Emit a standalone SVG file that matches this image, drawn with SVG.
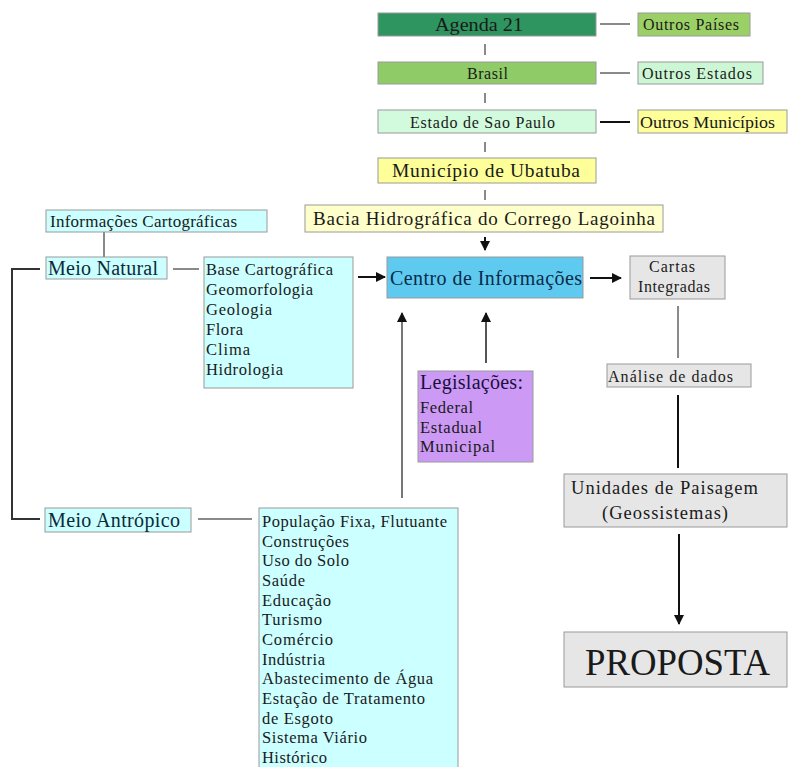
<svg xmlns="http://www.w3.org/2000/svg" width="788" height="767" viewBox="0 0 788 767">
<defs>
<style>
text{font-family:"Liberation Serif","Times New Roman",serif;fill:#1a1a1a}
.b{stroke:#9a9a9a;stroke-width:1}
.g{stroke:#8a8a8a;stroke-width:2;fill:none}
.k{stroke:#111;stroke-width:2;fill:none}
.s14{font-size:16px}
.s15{font-size:16.5px}
</style>
<marker id="ah" viewBox="0 0 10 10" refX="9" refY="5" markerWidth="5" markerHeight="5" orient="auto"><path d="M0,0L10,5L0,10z" fill="#111"/></marker>
</defs>
<rect width="788" height="767" fill="#fff"/>
<g id="connectors">
<path class="g" d="M600,24H630M600,73H630M485,44V55M485,93V103M485,142V152M485,190V200M104,232V257M173,269H199M198,519H252M678,306V358"/>
<path class="k" d="M600,122H630M678,395V468"/>
<path class="k" d="M40,269H12V519H40" style="stroke:#333"/>
<path class="k" d="M485,237V250" marker-end="url(#ah)"/>
<path class="k" d="M358,277H385" marker-end="url(#ah)"/>
<path class="k" d="M590,278H621" marker-end="url(#ah)"/>
<path class="g" d="M486,363V313" marker-end="url(#ah)" style="stroke:#555"/>
<path class="g" d="M402,498V313" marker-end="url(#ah)" style="stroke:#777"/>
<path class="k" d="M679,534V624" marker-end="url(#ah)"/>
</g>
<g id="agenda21"><rect class="b" x="378" y="13" width="218" height="23" fill="#2e9460"/><text x="435" y="31" font-size="18" textLength="88" lengthAdjust="spacingAndGlyphs">Agenda 21</text></g>
<g id="outros-paises"><rect class="b" x="638" y="13" width="112" height="23" fill="#9bd067"/><text x="643" y="30" class="s14" textLength="96">Outros Países</text></g>
<g id="brasil"><rect class="b" x="378" y="62" width="218" height="22" fill="#8fcc68"/><text x="467" y="79" class="s14" textLength="41">Brasil</text></g>
<g id="outros-estados"><rect class="b" x="638" y="62" width="125" height="22" fill="#ccf7d4"/><text x="642" y="79" class="s14" textLength="110">Outros Estados</text></g>
<g id="estado-sp"><rect class="b" x="378" y="110" width="218" height="23" fill="#d2fadc"/><text x="410" y="128" class="s14" textLength="145">Estado de Sao Paulo</text></g>
<g id="outros-municipios"><rect class="b" x="638" y="110" width="149" height="23" fill="#ffff99"/><text x="640" y="128" class="s14" textLength="135" lengthAdjust="spacingAndGlyphs">Outros Municípios</text></g>
<g id="ubatuba"><rect class="b" x="378" y="158" width="218" height="25" fill="#ffff99"/><text x="392" y="177" font-size="19.5" textLength="188">Município de Ubatuba</text></g>
<g id="bacia"><rect class="b" x="305" y="205" width="358" height="27" fill="#ffffcc"/><text x="313" y="225" font-size="19" textLength="342">Bacia Hidrográfica do Corrego Lagoinha</text></g>
<g id="centro"><rect class="b" x="387" y="257" width="196" height="41" fill="#5fcaf0"/><text x="390" y="285" font-size="20" textLength="192" style="fill:#0a2a4a">Centro de Informações</text></g>
<g id="cartas"><rect class="b" x="630" y="256" width="95" height="43" fill="#e6e6e6"/><text x="649" y="272" class="s14" textLength="46">Cartas</text><text x="638" y="292" class="s14" textLength="72">Integradas</text></g>
<g id="analise"><rect class="b" x="607" y="364" width="144" height="23" fill="#e6e6e6"/><text x="608" y="382" class="s14" textLength="125">Análise de dados</text></g>
<g id="unidades"><rect class="b" x="564" y="474" width="223" height="53" fill="#e6e6e6"/><text x="571" y="494" font-size="18.5" textLength="187">Unidades de Paisagem</text><text x="602" y="519" font-size="18.5" textLength="126">(Geossistemas)</text></g>
<g id="proposta"><rect class="b" x="564" y="632" width="223" height="55" fill="#e6e6e6"/><text x="585" y="675" font-size="38" textLength="185" lengthAdjust="spacingAndGlyphs">PROPOSTA</text></g>
<g id="legislacoes"><rect class="b" x="418" y="371" width="115" height="91" fill="#cc99f5"/><text x="420" y="389" font-size="20" textLength="103" style="fill:#1a1040">Legislações:</text><text x="420" y="413" class="s15" textLength="53">Federal</text><text x="420" y="433" class="s15" textLength="62">Estadual</text><text x="420" y="452" class="s15" textLength="75">Municipal</text></g>
<g id="info-cartograficas"><rect class="b" x="46" y="210" width="221" height="22" fill="#ccffff"/><text x="50" y="227" font-size="17" textLength="187">Informações Cartográficas</text></g>
<g id="meio-natural"><rect class="b" x="46" y="257" width="121" height="22" fill="#ccffff"/><text x="48" y="275" font-size="20" textLength="110" style="fill:#0a2a3a">Meio Natural</text></g>
<g id="natural-list"><rect class="b" x="204" y="257" width="149" height="131" fill="#ccffff"/>
<text class="s15" x="206" y="275" textLength="127">Base Cartográfica</text>
<text class="s15" x="206" y="295" textLength="107">Geomorfologia</text>
<text class="s15" x="206" y="315" textLength="66">Geologia</text>
<text class="s15" x="206" y="335" textLength="37">Flora</text>
<text class="s15" x="206" y="355" textLength="44">Clima</text>
<text class="s15" x="206" y="375" textLength="77">Hidrologia</text></g>
<g id="meio-antropico"><rect class="b" x="45" y="508" width="146" height="24" fill="#ccffff"/><text x="48" y="527" font-size="20" textLength="132" style="fill:#0a2a3a">Meio Antrópico</text></g>
<g id="antropico-list"><rect class="b" x="259" y="508" width="199" height="262" fill="#ccffff"/>
<text class="s15" x="262" y="527" textLength="185">População Fixa, Flutuante</text>
<text class="s15" x="262" y="547" textLength="87">Construções</text>
<text class="s15" x="262" y="566" textLength="87">Uso do Solo</text>
<text class="s15" x="262" y="586" textLength="43">Saúde</text>
<text class="s15" x="262" y="606" textLength="69">Educação</text>
<text class="s15" x="262" y="625" textLength="60">Turismo</text>
<text class="s15" x="262" y="645" textLength="71">Comércio</text>
<text class="s15" x="262" y="665" textLength="63">Indústria</text>
<text class="s15" x="262" y="684" textLength="171">Abastecimento de Água</text>
<text class="s15" x="262" y="704" textLength="163">Estação de Tratamento</text>
<text class="s15" x="262" y="724" textLength="71">de Esgoto</text>
<text class="s15" x="262" y="743" textLength="105">Sistema Viário</text>
<text class="s15" x="262" y="763" textLength="65">Histórico</text></g>
</svg>
